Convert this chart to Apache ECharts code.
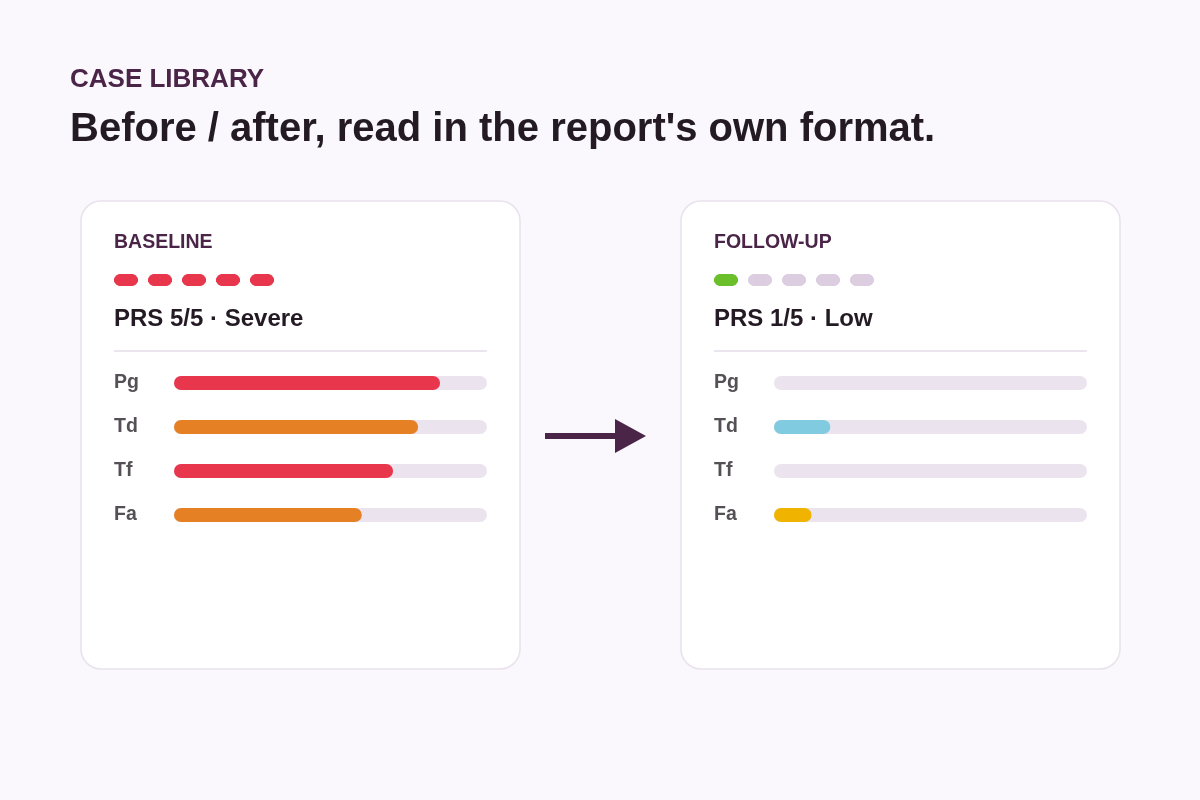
<!DOCTYPE html>
<html>
<head>
<meta charset="utf-8">
<script src="https://cdn.jsdelivr.net/npm/echarts@6/dist/echarts.min.js"></script>
<style>
html,body{margin:0;padding:0;background:#faf8fc;}
#chart{width:1200px;height:800px;}
</style>
</head>
<body>
<div id="chart"></div>
<script>
// ---- data ----
const eyebrow = 'CASE LIBRARY';
const headline = "Before / after, read in the report's own format.";
const domains = ['Pg', 'Td', 'Tf', 'Fa'];
const panelTitles = ['BASELINE', 'FOLLOW-UP'];
const prsScores = [5, 1];
const prsMax = 5;
const prsLabels = ['PRS 5/5 · Severe', 'PRS 1/5 · Low'];
const baselineValues = [0.85, 0.78, 0.70, 0.60];
const followupValues = [0, 0.18, 0, 0.12];

// ---- styles ----
const baselineColors = ['#e8374d', '#e58024', '#e8374d', '#e58024'];
const followupColors = ['#e8374d', '#80cbe0', '#e8374d', '#f0b400'];
const dotOn = ['#e8374d', '#6abf2b'];
const dotOff = '#dccde0';
const FONT = '"Liberation Sans", Arial, Helvetica, sans-serif';
const PURPLE = '#4a2548';
const INK = '#231a24';

const chart = echarts.init(document.getElementById('chart'), null, {renderer: 'canvas'});

const panelX = [0, 600];
const grids = [], xAxes = [], yAxes = [], series = [], graphics = [];

const capsule = 'path://M5,0 L19,0 L22,1.5 L24,4.5 L24,7.5 L22,10.5 L19,12 L5,12 L2,10.5 L0,7.5 L0,4.5 L2,1.5 Z';

[baselineValues, followupValues].forEach((vals, p) => {
  const ox = panelX[p];
  const colors = p === 0 ? baselineColors : followupColors;
  // card
  graphics.push({
    type: 'rect', shape: {x: 81 + ox, y: 201, width: 439, height: 468, r: 20},
    style: {fill: '#ffffff', stroke: '#e9e1ec', lineWidth: 1.5}, z: 0
  });
  graphics.push({
    type: 'text', x: 114 + ox, y: 243,
    style: {text: panelTitles[p], font: 'bold 19.5px ' + FONT, fill: PURPLE, textVerticalAlign: 'middle'}, z: 2
  });
  graphics.push({
    type: 'text', x: 114 + ox, y: 319.5,
    style: {text: prsLabels[p], font: 'bold 24px ' + FONT, fill: INK, textVerticalAlign: 'middle'}, z: 2
  });
  graphics.push({
    type: 'line', shape: {x1: 114 + ox, y1: 351, x2: 487 + ox, y2: 351},
    style: {stroke: '#e4dee7', lineWidth: 1.5}, z: 2
  });

  // dots grid
  const gDots = grids.length;
  grids.push({left: 126 + ox, width: 136, top: 274, height: 12, containLabel: false});
  xAxes.push({gridIndex: gDots, type: 'value', min: 0, max: prsMax - 1, show: false});
  yAxes.push({gridIndex: gDots, type: 'value', min: -1, max: 1, show: false});
  const dotData = [];
  for (let i = 0; i < prsMax; i++) {
    dotData.push({value: [i, 0], itemStyle: {color: i < prsScores[p] ? dotOn[p] : dotOff}});
  }
  series.push({
    type: 'scatter', xAxisIndex: gDots, yAxisIndex: gDots, data: dotData,
    symbol: capsule, symbolSize: [24, 12], symbolKeepAspect: false, silent: true, z: 3,
    itemStyle: {opacity: 1}
  });

  // bars grid
  const gBars = grids.length;
  grids.push({left: 174 + ox, width: 313, top: 361, height: 176, containLabel: false});
  xAxes.push({gridIndex: gBars, type: 'value', min: 0, max: 1, show: false});
  yAxes.push({
    gridIndex: gBars, type: 'category', data: domains, inverse: true,
    axisLine: {show: false}, axisTick: {show: false}, splitLine: {show: false},
    axisLabel: {margin: 60, align: 'left', fontFamily: FONT, fontSize: 19.5, fontWeight: 'bold', color: '#555055', padding: [4, 0, 0, 0]}
  });
  series.push({
    type: 'bar', xAxisIndex: gBars, yAxisIndex: gBars, barWidth: 14,
    data: vals.map((v, i) => ({value: v, itemStyle: {color: colors[i]}})),
    itemStyle: {borderRadius: 7},
    showBackground: true,
    backgroundStyle: {color: '#ebe4ef', borderRadius: 7},
    silent: true, z: 3
  });
});

// header
graphics.push({
  type: 'text', x: 70, y: 80,
  style: {text: eyebrow, font: 'bold 26px ' + FONT, fill: PURPLE, textVerticalAlign: 'middle'}, z: 2
});
graphics.push({
  type: 'text', x: 70, y: 130,
  style: {text: headline, font: 'bold 40px ' + FONT, fill: INK, textVerticalAlign: 'middle'}, z: 2
});
// arrow
graphics.push({
  type: 'rect', shape: {x: 545, y: 433, width: 72, height: 6}, style: {fill: PURPLE}, z: 2
});
graphics.push({
  type: 'polygon', shape: {points: [[615, 419], [646, 436], [615, 453]]}, style: {fill: PURPLE}, z: 2
});

chart.setOption({
  backgroundColor: '#faf8fc',
  animation: false,
  grid: grids, xAxis: xAxes, yAxis: yAxes, series: series,
  graphic: {elements: graphics}
});
</script>
</body>
</html>
